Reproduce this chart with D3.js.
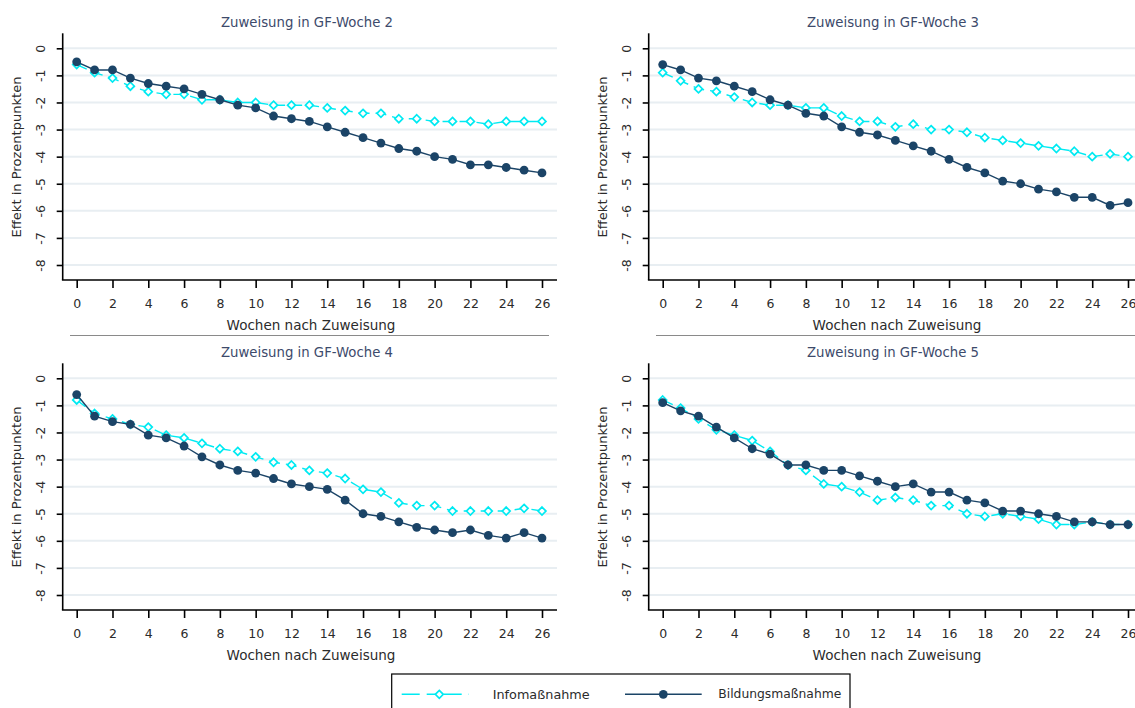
<!DOCTYPE html>
<html><head><meta charset="utf-8">
<script src="https://cdn.jsdelivr.net/npm/d3@7/dist/d3.min.js"></script>
<style>body{margin:0;background:#fff} svg{display:block}</style>
</head><body>
<svg id="chart" width="1135" height="708"></svg>
<script>
// ---------------- data ----------------
const weeks = [0,1,2,3,4,5,6,7,8,9,10,11,12,13,14,15,16,17,18,19,20,21,22,23,24,25,26];
const xTickValues = [0,2,4,6,8,10,12,14,16,18,20,22,24,26];
const yTickValues = [0,-1,-2,-3,-4,-5,-6,-7,-8];
const panelTitles = ["Zuweisung in GF-Woche 2","Zuweisung in GF-Woche 3","Zuweisung in GF-Woche 4","Zuweisung in GF-Woche 5"];
const seriesNames = ["Infomaßnahme","Bildungsmaßnahme"];
const xTitle = "Wochen nach Zuweisung";
const yTitle = "Effekt in Prozentpunkten";

const infoW2 = [-0.6,-0.9,-1.1,-1.4,-1.6,-1.7,-1.7,-1.9,-1.9,-2.0,-2.0,-2.1,-2.1,-2.1,-2.2,-2.3,-2.4,-2.4,-2.6,-2.6,-2.7,-2.7,-2.7,-2.8,-2.7,-2.7,-2.7];
const bildW2 = [-0.5,-0.8,-0.8,-1.1,-1.3,-1.4,-1.5,-1.7,-1.9,-2.1,-2.2,-2.5,-2.6,-2.7,-2.9,-3.1,-3.3,-3.5,-3.7,-3.8,-4.0,-4.1,-4.3,-4.3,-4.4,-4.5,-4.6];
const infoW3 = [-0.9,-1.2,-1.5,-1.6,-1.8,-2.0,-2.1,-2.1,-2.2,-2.2,-2.5,-2.7,-2.7,-2.9,-2.8,-3.0,-3.0,-3.1,-3.3,-3.4,-3.5,-3.6,-3.7,-3.8,-4.0,-3.9,-4.0];
const bildW3 = [-0.6,-0.8,-1.1,-1.2,-1.4,-1.6,-1.9,-2.1,-2.4,-2.5,-2.9,-3.1,-3.2,-3.4,-3.6,-3.8,-4.1,-4.4,-4.6,-4.9,-5.0,-5.2,-5.3,-5.5,-5.5,-5.8,-5.7];
const infoW4 = [-0.8,-1.3,-1.5,-1.7,-1.8,-2.1,-2.2,-2.4,-2.6,-2.7,-2.9,-3.1,-3.2,-3.4,-3.5,-3.7,-4.1,-4.2,-4.6,-4.7,-4.7,-4.9,-4.9,-4.9,-4.9,-4.8,-4.9];
const bildW4 = [-0.6,-1.4,-1.6,-1.7,-2.1,-2.2,-2.5,-2.9,-3.2,-3.4,-3.5,-3.7,-3.9,-4.0,-4.1,-4.5,-5.0,-5.1,-5.3,-5.5,-5.6,-5.7,-5.6,-5.8,-5.9,-5.7,-5.9];
const infoW5 = [-0.8,-1.1,-1.5,-1.9,-2.1,-2.3,-2.7,-3.2,-3.4,-3.9,-4.0,-4.2,-4.5,-4.4,-4.5,-4.7,-4.7,-5.0,-5.1,-5.0,-5.1,-5.2,-5.4,-5.4,-5.3,-5.4,-5.4];
const bildW5 = [-0.9,-1.2,-1.4,-1.8,-2.2,-2.6,-2.8,-3.2,-3.2,-3.4,-3.4,-3.6,-3.8,-4.0,-3.9,-4.2,-4.2,-4.5,-4.6,-4.9,-4.9,-5.0,-5.1,-5.3,-5.3,-5.4,-5.4];

const infoSeries = [infoW2, infoW3, infoW4, infoW5];
const bildSeries = [bildW2, bildW3, bildW4, bildW5];

// ---------------- style ----------------
const FONT = "'DejaVu Sans', Lato, sans-serif";
const CYAN = "#00eaf2";
const NAVY = "#1b4467";
const TITLE_COL = "#3d4a6b";
const TEXT_COL = "#2b2b2b";

const svg = d3.select("#chart").style("font-family", FONT);

const diamond = d3.symbol().type(d3.symbolDiamond2 || d3.symbolDiamond).size(40);
const plainFmt = d => String(d);   // hyphen-minus like the reference

// scale a text's font size so that it spans the target width
function fit(sel, base, target) {
  sel.style("font-size", base + "px");
  const len = sel.node().getComputedTextLength();
  if (len > 0) sel.style("font-size", (base * target / len).toFixed(2) + "px");
  return sel;
}

function drawPanel(i) {
  const col = i % 2, row = Math.floor(i / 2);
  const ox = col * 586, oy = row * 330;
  const g = svg.append("g");

  const x = d3.scaleLinear().domain([0, 26]).range([76.7 + ox, 542 + ox]);
  const y = d3.scaleLinear().domain([0, -8]).range([48.3 + oy, 265 + oy]);
  const axisX = 62.7 + ox, axisY = 280 + oy, axisTop = 33.3 + oy, axisRight = 557 + ox;

  // gridlines
  g.append("g").selectAll("line").data(yTickValues).join("line")
    .attr("x1", axisX).attr("x2", axisRight)
    .attr("y1", d => y(d)).attr("y2", d => y(d))
    .attr("stroke", "#e8eef2").attr("stroke-width", 2);

  // y axis
  const ya = g.append("g").attr("transform", `translate(${axisX},0)`)
    .call(d3.axisLeft(y).tickValues(yTickValues).tickSize(6).tickFormat(plainFmt));
  ya.select(".domain").remove();
  ya.selectAll(".tick line").attr("stroke", "#000").attr("stroke-width", 1.6);
  ya.selectAll(".tick text")
    .attr("x", null).attr("dy", null)
    .attr("text-anchor", "middle").attr("dominant-baseline", "central")
    .attr("transform", "translate(-22,0) rotate(-90)")
    .attr("fill", TEXT_COL).style("font-size", "12.5px").style("font-family", FONT);

  // x axis
  const xa = g.append("g").attr("transform", `translate(0,${axisY})`)
    .call(d3.axisBottom(x).tickValues(xTickValues).tickSize(8).tickFormat(plainFmt));
  xa.select(".domain").remove();
  xa.selectAll(".tick line").attr("stroke", "#000").attr("stroke-width", 1.6);
  xa.selectAll(".tick text")
    .attr("y", 23.3).attr("dy", "0.35em")
    .attr("fill", TEXT_COL).style("font-size", "12.5px").style("font-family", FONT);

  // axis lines
  g.append("line").attr("x1", axisX).attr("x2", axisX).attr("y1", axisTop).attr("y2", axisY)
    .attr("stroke", "#000").attr("stroke-width", 1.6);
  g.append("line").attr("x1", axisX - 0.8).attr("x2", axisRight).attr("y1", axisY).attr("y2", axisY)
    .attr("stroke", "#000").attr("stroke-width", 1.6);

  // titles
  fit(g.append("text").attr("x", 307 + ox).attr("y", 22.5 + oy)
    .attr("text-anchor", "middle").attr("dominant-baseline", "central")
    .attr("fill", TITLE_COL).text(panelTitles[i]), 13, 172);
  fit(g.append("text").attr("x", 311 + ox).attr("y", 325 + oy)
    .attr("text-anchor", "middle").attr("dominant-baseline", "central")
    .attr("fill", TEXT_COL).text(xTitle), 13, 169);
  fit(g.append("text").attr("transform", `translate(${16 + ox},${157 + oy}) rotate(-90)`)
    .attr("text-anchor", "middle").attr("dominant-baseline", "central")
    .attr("fill", TEXT_COL).text(yTitle), 13, 161);

  // separator under top panels
  if (row === 0) {
    g.append("line").attr("x1", 70 + ox).attr("x2", Math.min(549 + ox, 1135))
      .attr("y1", 335.5).attr("y2", 335.5).attr("stroke", "#8a8a8a").attr("stroke-width", 1.2);
  }

  const line = d3.line().x((d, j) => x(weeks[j])).y(d => y(d));

  // Info series (dashed, hollow diamonds)
  const info = infoSeries[i];
  g.append("path").datum(info).attr("d", line)
    .attr("fill", "none").attr("stroke", CYAN).attr("stroke-width", 1.4)
    .attr("stroke-dasharray", "11,6");
  g.append("g").selectAll("path").data(info).join("path")
    .attr("d", diamond)
    .attr("transform", (d, j) => `translate(${x(weeks[j])},${y(d)})`)
    .attr("fill", "#fff").attr("stroke", CYAN).attr("stroke-width", 1.7);

  // Bildung series (solid, filled circles)
  const bild = bildSeries[i];
  g.append("path").datum(bild).attr("d", line)
    .attr("fill", "none").attr("stroke", NAVY).attr("stroke-width", 1.4);
  g.append("g").selectAll("circle").data(bild).join("circle")
    .attr("cx", (d, j) => x(weeks[j])).attr("cy", d => y(d)).attr("r", 4.4)
    .attr("fill", NAVY);
}

[0, 1, 2, 3].forEach(drawPanel);

// ---------------- legend ----------------
const lg = svg.append("g");
lg.append("rect").attr("x", 391.7).attr("y", 674).attr("width", 458.3).attr("height", 40)
  .attr("fill", "#fff").attr("stroke", "#000").attr("stroke-width", 1.2);
const ly = 694.3;
lg.append("line").attr("x1", 401.7).attr("x2", 469).attr("y1", ly).attr("y2", ly)
  .attr("stroke", CYAN).attr("stroke-width", 1.4).attr("stroke-dasharray", "18,7,10,7");
lg.append("path").attr("d", diamond).attr("transform", `translate(439.3,${ly})`)
  .attr("fill", "#fff").attr("stroke", CYAN).attr("stroke-width", 1.7);
fit(lg.append("text").attr("x", 492.7).attr("y", ly).attr("dominant-baseline", "central")
  .attr("fill", TEXT_COL).text(seriesNames[0]), 13, 97);
lg.append("line").attr("x1", 625).attr("x2", 701.7).attr("y1", ly).attr("y2", ly)
  .attr("stroke", NAVY).attr("stroke-width", 1.4);
lg.append("circle").attr("cx", 663.3).attr("cy", ly).attr("r", 4.4).attr("fill", NAVY);
fit(lg.append("text").attr("x", 718.3).attr("y", ly).attr("dominant-baseline", "central")
  .attr("fill", TEXT_COL).text(seriesNames[1]), 13, 123);
</script>
</body></html>
